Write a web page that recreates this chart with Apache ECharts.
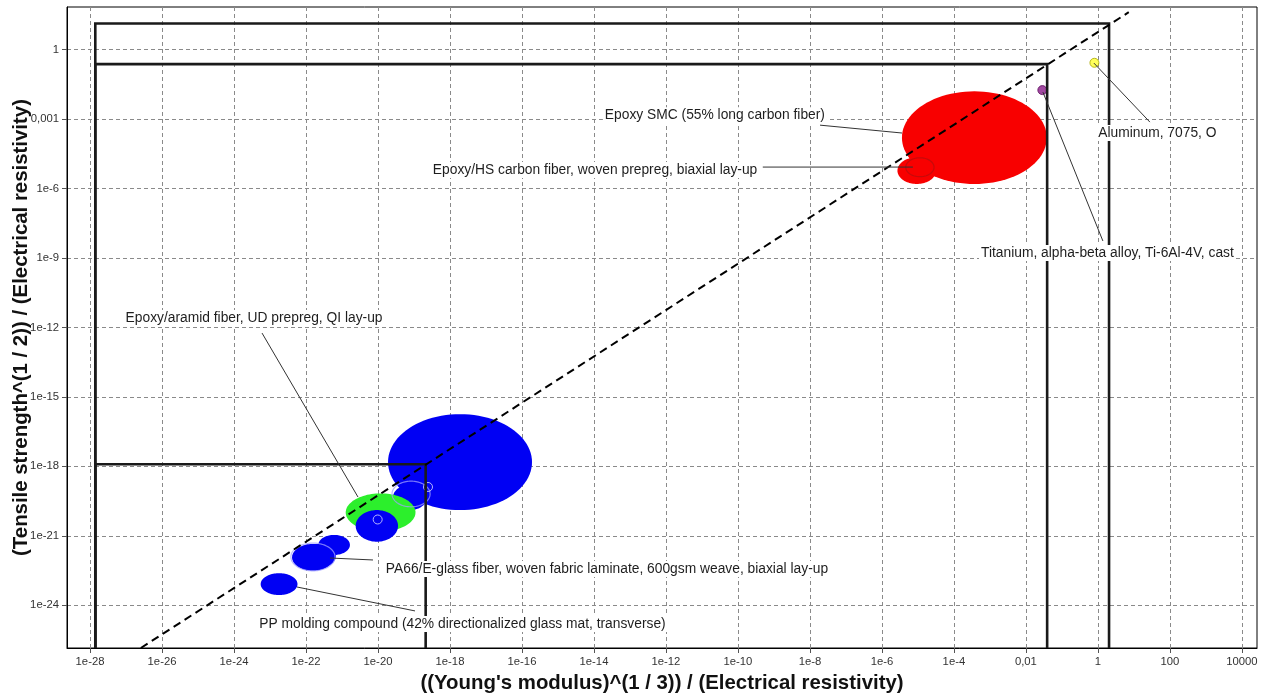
<!DOCTYPE html>
<html><head><meta charset="utf-8">
<script src="https://cdn.jsdelivr.net/npm/echarts@6/dist/echarts.min.js"></script>
<style>html,body{margin:0;padding:0;background:#fff}#chart{width:1262px;height:696px}</style>
</head><body><div id="chart"></div>
<script>
// ---------------- DATA ----------------
const xTickExponents = [-28,-26,-24,-22,-20,-18,-16,-14,-12,-10,-8,-6,-4,-2,0,2,4];
const xTickLabels = ['1e-28','1e-26','1e-24','1e-22','1e-20','1e-18','1e-16','1e-14','1e-12','1e-10','1e-8','1e-6','1e-4','0,01','1','100','10000'];
const yTickExponents = [-24,-21,-18,-15,-12,-9,-6,-3,0];
const yTickLabels = ['1e-24','1e-21','1e-18','1e-15','1e-12','1e-9','1e-6','0,001','1'];

// material bubbles (ranges of the two properties)
const bubbleNames = [
  'Unlabelled polymer composite A',
  'Unlabelled polymer composite B',
  'Unlabelled polymer composite C',
  'Unlabelled polymer composite D',
  'Epoxy/aramid fiber, UD prepreg, QI lay-up',
  'Unlabelled polymer composite E',
  'PA66/E-glass fiber, woven fabric laminate, 600gsm weave, biaxial lay-up',
  'Unlabelled polymer composite F',
  'PP molding compound (42% directionalized glass mat, transverse)',
  'Epoxy SMC (55% long carbon fiber)',
  'Epoxy/HS carbon fiber, woven prepreg, biaxial lay-up'
];
const bubbleGroups = ['glass','glass','glass','glass','aramid','glass','glass','glass','glass','carbon','carbon'];
const bubbleXLow  = [1.9e-20, 2.6e-20, 2.4e-21, 2.2e-22, 1.27e-21, 2.4e-21, 4.1e-23, 6.8e-23, 5.5e-24, 3.6e-6, 2.7e-6];
const bubbleXHigh = [1.9e-16, 2.3e-19, 3.6e-20, 1.66e-21, 1.1e-19, 3.6e-20, 5.9e-22, 6.8e-22, 5.8e-23, 0.038, 3.2e-5];
const bubbleYLow  = [1.3e-20, 1.3e-20, 5.6e-22, 1.5e-22, 1.55e-21, 5.6e-22, 3.1e-23, 4.1e-23, 2.8e-24, 1.55e-6, 1.55e-6];
const bubbleYHigh = [1.8e-16, 1.6e-19, 1.3e-20, 1.1e-21, 6.8e-20, 1.3e-20, 4.5e-22, 4.5e-22, 2.45e-23, 0.0155, 2.2e-5];
const bubbleDrawOrder = [0,1,3,4,5,6,7,8,9,10];

// record outlines (overlapping records)
const outlineGroups = ['glass','glass','carbon'];
const outlineXLow  = [2.45e-20, 3.8e-23, 4.6e-6];
const outlineXHigh = [2.8e-19, 6.4e-22, 2.8e-5];
const outlineYLow  = [1.8e-20, 3.1e-23, 3.2e-6];
const outlineYHigh = [2.3e-19, 4.9e-22, 2.1e-5];

// highlighted single records (small rings)
const ringX = [2.45e-19, 9.8e-21];
const ringY = [1.29e-19, 5.1e-21];

// metals shown as points
const pointNames = ['Titanium, alpha-beta alloy, Ti-6Al-4V, cast', 'Aluminum, 7075, O'];
const pointGroups = ['titanium', 'aluminum'];
const pointX = [0.0286, 0.80];
const pointY = [0.0175, 0.264];

// selection boxes (lower-left corner at chart bottom)
const boxXLeft  = [1.4e-28, 1.4e-28, 1.4e-28];
const boxXRight = [2.04, 0.0389, 2.11e-19];
const boxYTop   = [13.2, 0.232, 1.23e-18];

// guideline y = C * x^1
const guideSlope = 1;
const guideCoefficient = 5.6;
const guideXEnd = 7.2;

// ---------------- LAYOUT / STYLE ----------------
const X_EXT = [-28.64, 4.42];
const Y_EXT = [-25.84, 1.83];
const groupColors = { glass: '#0000f4', aramid: '#2cef2c', carbon: '#f80000' };
const outlineColors = { glass: 'rgba(160,160,255,0.75)', carbon: 'rgba(150,20,20,0.5)' };
const pointStyles = {
  titanium: { color: '#8a1a8a', borderColor: '#5a0a5a' },
  aluminum: { color: '#ffff30', borderColor: '#a8a800' }
};
// annotation layout in log10 coordinates: label centre, leader start, leader end
const annotations = [
  { text: bubbleNames[9], t: [-10.64, -2.84], a: [-7.72, -3.27], b: [-5.44, -3.61] },
  { text: bubbleNames[10], t: [-13.97, -5.21], a: [-9.31, -5.08], b: [-5.14, -5.08] },
  { text: pointNames[1], t: [1.653, -3.61], a: [1.444, -3.138], b: [-0.111, -0.591] },
  { text: pointNames[0], t: [0.264, -8.79], a: [0.139, -8.27], b: [-1.528, -1.843] },
  { text: bubbleNames[4], t: [-23.444, -11.6], a: [-23.222, -12.245], b: [-20.556, -19.323] },
  { text: bubbleNames[6], t: [-13.639, -22.43], a: [-20.139, -22.04], b: [-21.333, -21.955] },
  { text: bubbleNames[8], t: [-17.653, -24.8], a: [-18.972, -24.24], b: [-22.25, -23.207] }
];
const FONT = '"Liberation Sans", Arial, Helvetica, sans-serif';
const lg = Math.log10;

function ellipseValue(xl, xh, yl, yh) {
  return [(lg(xl) + lg(xh)) / 2, (lg(yl) + lg(yh)) / 2, (lg(xh) - lg(xl)) / 2, (lg(yh) - lg(yl)) / 2];
}
function ellipsePoints(api) {
  const cx = api.value(0), cy = api.value(1), hx = api.value(2), hy = api.value(3);
  const pts = [];
  for (let k = 0; k < 96; k++) {
    const t = 2 * Math.PI * k / 96;
    pts.push(api.coord([cx + hx * Math.cos(t), cy + hy * Math.sin(t)]));
  }
  return pts;
}

const bubbleData = bubbleDrawOrder.map(i => ({
  name: bubbleNames[i],
  value: ellipseValue(bubbleXLow[i], bubbleXHigh[i], bubbleYLow[i], bubbleYHigh[i]),
  itemStyle: { color: groupColors[bubbleGroups[i]] }
}));
const outlineData = outlineGroups.map((g, i) => ({
  value: ellipseValue(outlineXLow[i], outlineXHigh[i], outlineYLow[i], outlineYHigh[i]),
  itemStyle: { color: outlineColors[g] }
}));
const ringData = ringX.map((x, i) => [lg(x), lg(ringY[i])]);
const pointData = pointX.map((x, i) => ({
  name: pointNames[i], value: [lg(x), lg(pointY[i])],
  itemStyle: Object.assign({ borderWidth: 1 }, pointStyles[pointGroups[i]])
}));
const boxData = boxXRight.map((x, i) => [lg(boxXLeft[i]), lg(x), lg(boxYTop[i])]);
const guideStartX = Y_EXT[0] - lg(guideCoefficient);
const guideData = [
  [guideStartX, lg(guideCoefficient) + guideSlope * guideStartX],
  [lg(guideXEnd), lg(guideCoefficient) + guideSlope * lg(guideXEnd)]
];

function labelFor(exps, labels) {
  return v => { const i = exps.findIndex(e => Math.abs(e - v) < 1e-6); return i >= 0 ? labels[i] : ''; };
}

const chart = echarts.init(document.getElementById('chart'), null, { renderer: 'canvas' });
chart.setOption({
  animation: false,
  backgroundColor: '#fff',
  grid: { left: 67, right: 5, top: 7, bottom: 48, containLabel: false, outerBoundsMode: 'none',
          show: true, borderColor: '#000', borderWidth: 1, backgroundColor: 'transparent' },
  xAxis: {
    type: 'value', min: X_EXT[0], max: X_EXT[1], minInterval: 2, maxInterval: 2,
    name: "((Young's modulus)^(1 / 3)) / (Electrical resistivity)",
    nameLocation: 'middle', nameGap: 25, nameMoveOverlap: false,
    nameTextStyle: { fontFamily: FONT, fontWeight: 'bold', fontSize: 20.4, color: '#111' },
    axisLine: { show: true, onZero: false, lineStyle: { color: '#000', width: 1 } },
    axisTick: { show: true, length: 5, customValues: xTickExponents, lineStyle: { color: '#555' } },
    axisLabel: { customValues: xTickExponents, formatter: labelFor(xTickExponents, xTickLabels), fontFamily: FONT, fontSize: 11.3, color: '#333', margin: 8 },
    splitLine: { show: true, lineStyle: { color: '#8a8a8a', type: [4, 3], width: 1 } }
  },
  yAxis: {
    type: 'value', min: Y_EXT[0], max: Y_EXT[1], minInterval: 3, maxInterval: 3,
    name: '(Tensile strength^(1 / 2)) / (Electrical resistivity)',
    nameLocation: 'middle', nameGap: 36, nameMoveOverlap: false,
    nameTextStyle: { fontFamily: FONT, fontWeight: 'bold', fontSize: 20.4, color: '#111' },
    axisLine: { show: true, onZero: false, lineStyle: { color: '#000', width: 1 } },
    axisTick: { show: true, length: 5, customValues: yTickExponents, lineStyle: { color: '#555' } },
    axisLabel: { customValues: yTickExponents, formatter: labelFor(yTickExponents, yTickLabels), fontFamily: FONT, fontSize: 11.3, color: '#333', margin: 8 },
    splitLine: { show: true, lineStyle: { color: '#8a8a8a', type: [4, 3], width: 1 } }
  },
  series: [
    {
      type: 'custom', name: 'bubbles', z: 2, silent: true,
      data: bubbleData,
      renderItem: (params, api) => ({
        type: 'polygon', shape: { points: ellipsePoints(api) },
        style: { fill: api.visual('color'), stroke: null }
      })
    },
    {
      type: 'custom', name: 'outlines', z: 3, silent: true,
      data: outlineData,
      renderItem: (params, api) => ({
        type: 'polygon', shape: { points: ellipsePoints(api) },
        style: { fill: 'none', stroke: api.visual('color'), lineWidth: 1.2 }
      })
    },
    {
      type: 'custom', name: 'rings', z: 3, silent: true,
      data: ringData,
      renderItem: (params, api) => {
        const p = api.coord([api.value(0), api.value(1)]);
        return { type: 'circle', shape: { cx: p[0], cy: p[1], r: 4.5 },
          style: { fill: 'none', stroke: 'rgba(200,200,255,0.9)', lineWidth: 1 } };
      }
    },
    {
      type: 'scatter', name: 'metals', z: 4, symbol: 'circle', symbolSize: 9, silent: true,
      data: pointData
    },
    {
      type: 'custom', name: 'selection boxes', z: 5, silent: true,
      data: boxData,
      renderItem: (params, api) => {
        const xl = api.value(0), xr = api.value(1), yt = api.value(2);
        const pts = [api.coord([xl, Y_EXT[0]]), api.coord([xl, yt]), api.coord([xr, yt]), api.coord([xr, Y_EXT[0]])];
        return { type: 'polyline', shape: { points: pts }, style: { fill: 'none', stroke: '#1a1a1a', lineWidth: 2.6 } };
      }
    },
    {
      type: 'line', name: 'guide', z: 6, silent: true, symbol: 'none',
      data: guideData,
      lineStyle: { color: '#000', width: 2, type: [8, 5] }
    },
    {
      type: 'custom', name: 'annotations', z: 7, silent: true,
      data: annotations.map(a => a.t),
      renderItem: (params, api) => {
        const a = annotations[params.dataIndex];
        const p = api.coord(a.t), s = api.coord(a.a), e = api.coord(a.b);
        return {
          type: 'group',
          children: [
            { type: 'line', shape: { x1: s[0], y1: s[1], x2: e[0], y2: e[1] }, style: { stroke: '#333', lineWidth: 1 } },
            { type: 'text', x: p[0], y: p[1], style: {
                text: a.text, align: 'center', verticalAlign: 'middle',
                fill: '#1e1e1e', fontSize: 13.8, fontFamily: FONT,
                backgroundColor: '#fff', padding: [1, 2] } }
          ]
        };
      }
    }
  ]
});
</script>
</body></html>
